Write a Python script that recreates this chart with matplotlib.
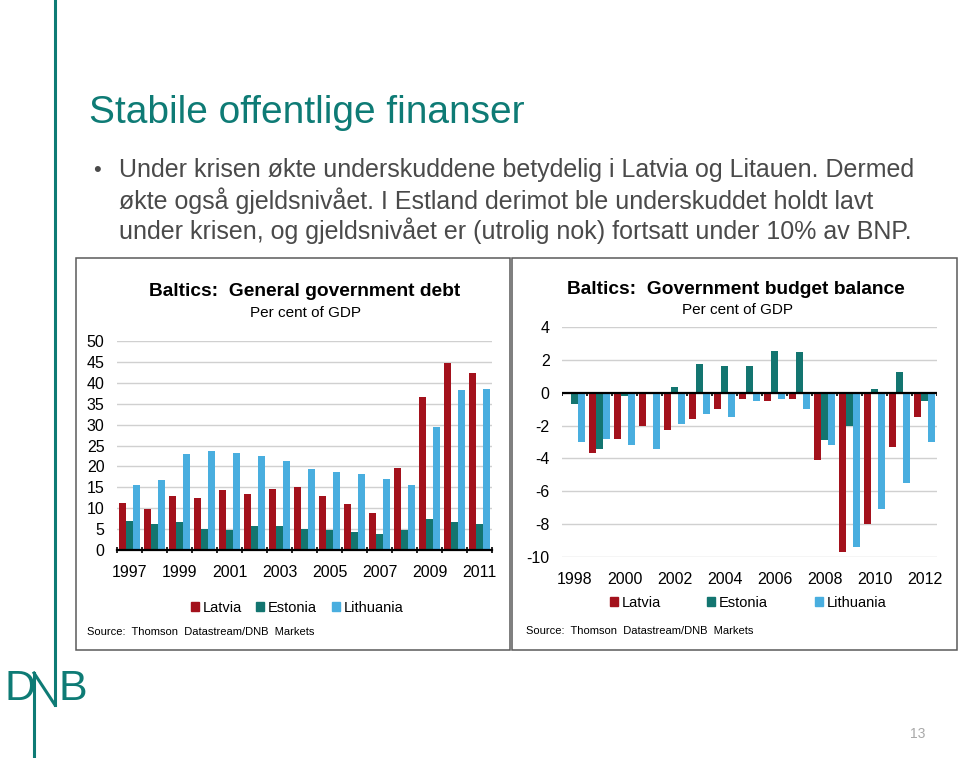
import matplotlib
matplotlib.use("Agg")
import matplotlib.pyplot as plt
import numpy as np
from matplotlib.patches import Rectangle, Patch
from matplotlib.lines import Line2D

plt.rcParams["font.family"] = ["Liberation Sans", "DejaVu Sans"]
plt.rcParams["axes.unicode_minus"] = False

# debt, per cent of GDP
years_debt = [1997, 1998, 1999, 2000, 2001, 2002, 2003, 2004, 2005, 2006, 2007, 2008, 2009, 2010, 2011]
latvia_debt = [11.3, 9.8, 12.8, 12.4, 14.3, 13.5, 14.7, 15.1, 12.8, 10.9, 8.9, 19.7, 36.7, 44.8, 42.4]
estonia_debt = [7.0, 6.2, 6.6, 5.1, 4.7, 5.8, 5.8, 5.1, 4.7, 4.3, 3.9, 4.7, 7.4, 6.6, 6.2]
lithuania_debt = [15.5, 16.7, 22.9, 23.6, 23.2, 22.5, 21.3, 19.3, 18.6, 18.2, 17.0, 15.5, 29.5, 38.2, 38.6]

# budget balance, per cent of GDP
years_bal = [1998, 1999, 2000, 2001, 2002, 2003, 2004, 2005, 2006, 2007, 2008, 2009, 2010, 2011, 2012]
latvia_bal = [0.0, -3.7, -2.8, -2.0, -2.3, -1.6, -1.0, -0.4, -0.5, -0.4, -4.1, -9.7, -8.0, -3.3, -1.5]
estonia_bal = [-0.7, -3.4, -0.2, -0.1, 0.35, 1.75, 1.65, 1.65, 2.55, 2.45, -2.9, -2.0, 0.25, 1.25, -0.5]
lithuania_bal = [-3.0, -2.8, -3.2, -3.4, -1.9, -1.3, -1.5, -0.5, -0.4, -1.0, -3.2, -9.4, -7.1, -5.5, -3.0]

countries = ["Latvia", "Estonia", "Lithuania"]
colors = ["#A3111C", "#137570", "#49AEDF"]
TEAL = "#0E7B75"

W, H = 960, 758
fig = plt.figure(figsize=(W / 100, H / 100), dpi=100)


def fx(x):
    return x / W


def fy(y):
    return 1 - y / H


def box(x0, y0, x1, y1):
    return [fx(x0), fy(y1), (x1 - x0) / W, (y1 - y0) / H]


# slide header
fig.text(fx(89), fy(113), "Stabile offentlige finanser", color=TEAL, fontsize=28, va="center")
bullets = ["Under krisen økte underskuddene betydelig i Latvia og Litauen. Dermed",
           "økte også gjeldsnivået. I Estland derimot ble underskuddet holdt lavt",
           "under krisen, og gjeldsnivået er (utrolig nok) fortsatt under 10% av BNP."]
fig.text(fx(93), fy(170), "•", color="#4A4A4A", fontsize=16, va="center")
for i, line in enumerate(bullets):
    fig.text(fx(119), fy(170 + 30.5 * i), line, color="#4A4A4A", fontsize=18, va="center")

# panel frames
for (x0, x1) in [(76, 510), (512, 957)]:
    fig.patches.append(Rectangle((fx(x0), fy(650)), (x1 - x0) / W, 392 / H,
                                 transform=fig.transFigure, fill=False,
                                 edgecolor="#5A5A5A", linewidth=1.1))

# logo and margin line
fig.add_artist(Line2D([fx(55), fx(55)], [fy(0), fy(705)], color=TEAL, lw=2.2))
fig.add_artist(Line2D([fx(34), fx(34)], [fy(673), fy(758)], color=TEAL, lw=2.2))
fig.add_artist(Line2D([fx(34), fx(55)], [fy(673), fy(705)], color=TEAL, lw=2.2))
fig.text(fx(4), fy(689), "D", color=TEAL, fontsize=31, va="center")
fig.text(fx(59), fy(689), "B", color=TEAL, fontsize=31, va="center")
fig.text(fx(918), fy(734), "13", color="#A8A8A8", fontsize=10, ha="center", va="center")

bw = 0.29


def draw_bars(ax, series):
    x = np.arange(len(series[0]))
    for k, (vals, c) in enumerate(zip(series, colors)):
        ax.bar(x + (k - 1) * bw, vals, width=bw, color=c, linewidth=0, zorder=3)
    ax.set_xlim(-0.5, len(x) - 0.5)
    for s in ["top", "right", "left"]:
        ax.spines[s].set_visible(False)
    ax.grid(axis="y", color="#D0D0D0", linewidth=1, zorder=0)
    ax.tick_params(axis="y", length=0, labelsize=11.5, pad=9)
    return x


# left chart: debt
ax1 = fig.add_axes(box(117, 341, 492, 550))
x1 = draw_bars(ax1, [latvia_debt, estonia_debt, lithuania_debt])
ax1.set_ylim(0, 50)
ax1.set_yticks(range(0, 51, 5))
ax1.set_xticks(x1[::2])
ax1.set_xticklabels([str(y) for y in years_debt[::2]])
ax1.set_xticks(np.arange(-0.5, len(x1)), minor=True)
ax1.tick_params(axis="x", which="major", length=0, labelsize=11.5, pad=11)
ax1.tick_params(axis="x", which="minor", length=5, direction="inout", width=1.2)
ax1.spines["bottom"].set_color("black")
ax1.spines["bottom"].set_linewidth(1.6)
ax1.spines["bottom"].set_zorder(4)

fig.text(fx(305), fy(292), "Baltics:  General government debt", fontsize=13.8, fontweight="bold",
         ha="center", va="center")
fig.text(fx(306), fy(313), "Per cent of GDP", fontsize=11, ha="center", va="center")
fig.text(fx(87), fy(632), "Source:  Thomson  Datastream/DNB  Markets", fontsize=8, va="center")

# right chart: budget balance
ax2 = fig.add_axes(box(562, 327, 937, 557))
x2 = draw_bars(ax2, [latvia_bal, estonia_bal, lithuania_bal])
ax2.set_ylim(-10, 4)
ax2.set_yticks(range(-10, 5, 2))
ax2.spines["bottom"].set_visible(False)
ax2.set_xticks(x2[::2])
ax2.set_xticklabels([str(y) for y in years_bal[::2]])
ax2.tick_params(axis="x", length=0, labelsize=11.5, pad=11)
ax2.axhline(0, color="black", linewidth=1.6, zorder=4)
ax2.vlines(np.arange(-0.5, len(x2)), -0.2, 0, color="black", linewidth=1.2, zorder=4)

fig.text(fx(736), fy(290), "Baltics:  Government budget balance", fontsize=13.8, fontweight="bold",
         ha="center", va="center")
fig.text(fx(737), fy(310), "Per cent of GDP", fontsize=11, ha="center", va="center")
fig.text(fx(526), fy(631), "Source:  Thomson  Datastream/DNB  Markets", fontsize=8, va="center")

handles = [Patch(color=c, label=n) for c, n in zip(colors, countries)]
for cx, cy, sp in [(297, 608, 1.0), (748, 603, 3.2)]:
    fig.legend(handles=handles, loc="center", bbox_to_anchor=(fx(cx), fy(cy)), ncol=3,
               frameon=False, fontsize=10.5, handlelength=0.55, handleheight=0.55,
               handletextpad=0.25, columnspacing=sp, borderpad=0, borderaxespad=0)

fig.savefig("out.png", dpi=100)
